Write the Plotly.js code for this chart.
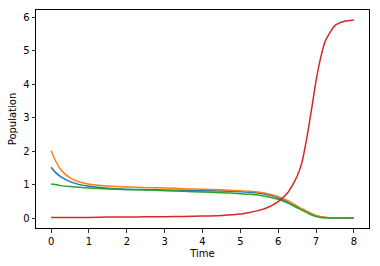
<!DOCTYPE html>
<html>
<head>
<meta charset="utf-8">
<script src="https://cdn.plot.ly/plotly-3.0.1.min.js"></script>
<style>html,body{margin:0;padding:0;background:#fff;}#chart{width:380px;height:266px;}</style>
</head>
<body>
<div id="chart"></div>
<script>
const time   = [0, 0.1, 0.25, 0.5, 0.75, 1, 1.5, 2, 2.5, 3, 3.5, 4, 4.5, 5, 5.25, 5.5, 5.75, 6, 6.25, 6.375, 6.5, 6.625, 6.75, 6.875, 7, 7.125, 7.25, 7.5, 7.75, 8];
const blue   = [1.52, 1.38, 1.24, 1.09, 1.0, 0.95, 0.89, 0.86, 0.85, 0.84, 0.83, 0.82, 0.81, 0.79, 0.77, 0.74, 0.69, 0.61, 0.49, 0.42, 0.34, 0.26, 0.19, 0.12, 0.07, 0.04, 0.02, 0.01, 0.0, 0.0];
const orange = [2.02, 1.75, 1.45, 1.2, 1.08, 1.01, 0.96, 0.93, 0.91, 0.90, 0.88, 0.86, 0.85, 0.82, 0.80, 0.77, 0.72, 0.64, 0.52, 0.44, 0.36, 0.28, 0.21, 0.14, 0.08, 0.04, 0.02, 0.01, 0.0, 0.0];
const green  = [1.02, 1.0, 0.97, 0.94, 0.92, 0.9, 0.87, 0.85, 0.84, 0.82, 0.8, 0.78, 0.76, 0.73, 0.71, 0.68, 0.63, 0.56, 0.45, 0.38, 0.31, 0.24, 0.17, 0.1, 0.05, 0.02, 0.01, 0.0, 0.0, 0.0];
const red    = [0.02, 0.02, 0.02, 0.02, 0.02, 0.02, 0.03, 0.03, 0.04, 0.04, 0.05, 0.06, 0.08, 0.12, 0.17, 0.23, 0.33, 0.49, 0.76, 0.98, 1.25, 1.65, 2.35, 3.2, 4.1, 4.8, 5.3, 5.75, 5.88, 5.92];
const seriesList = [
  {y: blue, color: '#1f77b4'},
  {y: orange, color: '#ff7f0e'},
  {y: green, color: '#2ca02c'},
  {y: red, color: '#d62728'}
];
const traces = seriesList.map(s => ({
  x: time, y: s.y, type: 'scatter', mode: 'lines',
  line: {color: s.color, width: 1.5, shape: 'spline', smoothing: 0.6},
  hoverinfo: 'none', showlegend: false
}));
const axisCommon = {
  showgrid: false, zeroline: false, showline: true, mirror: true,
  linecolor: '#000', linewidth: 1, ticks: 'outside', ticklen: 3.5, tickwidth: 0.8,
  tickcolor: '#000', tickfont: {family: 'DejaVu Sans', size: 10, color: '#000'}
};
const layout = {
  width: 380, height: 266,
  margin: {l: 36, r: 11, t: 10, b: 38},
  paper_bgcolor: '#fff', plot_bgcolor: '#fff',
  font: {family: 'DejaVu Sans', size: 10, color: '#000'},
  xaxis: Object.assign({}, axisCommon, {
    range: [-0.4, 8.4], tickmode: 'array', tickvals: [0,1,2,3,4,5,6,7,8],
    title: {text: 'Time', font: {family: 'DejaVu Sans', size: 10, color: '#000'}, standoff: 4}
  }),
  yaxis: Object.assign({}, axisCommon, {
    range: [-0.296, 6.216], tickmode: 'array', tickvals: [0,1,2,3,4,5,6],
    title: {text: 'Population', font: {family: 'DejaVu Sans', size: 10, color: '#000'}, standoff: 4}
  })
};
Plotly.newPlot('chart', traces, layout, {staticPlot: true, displayModeBar: false});
</script>
</body>
</html>
